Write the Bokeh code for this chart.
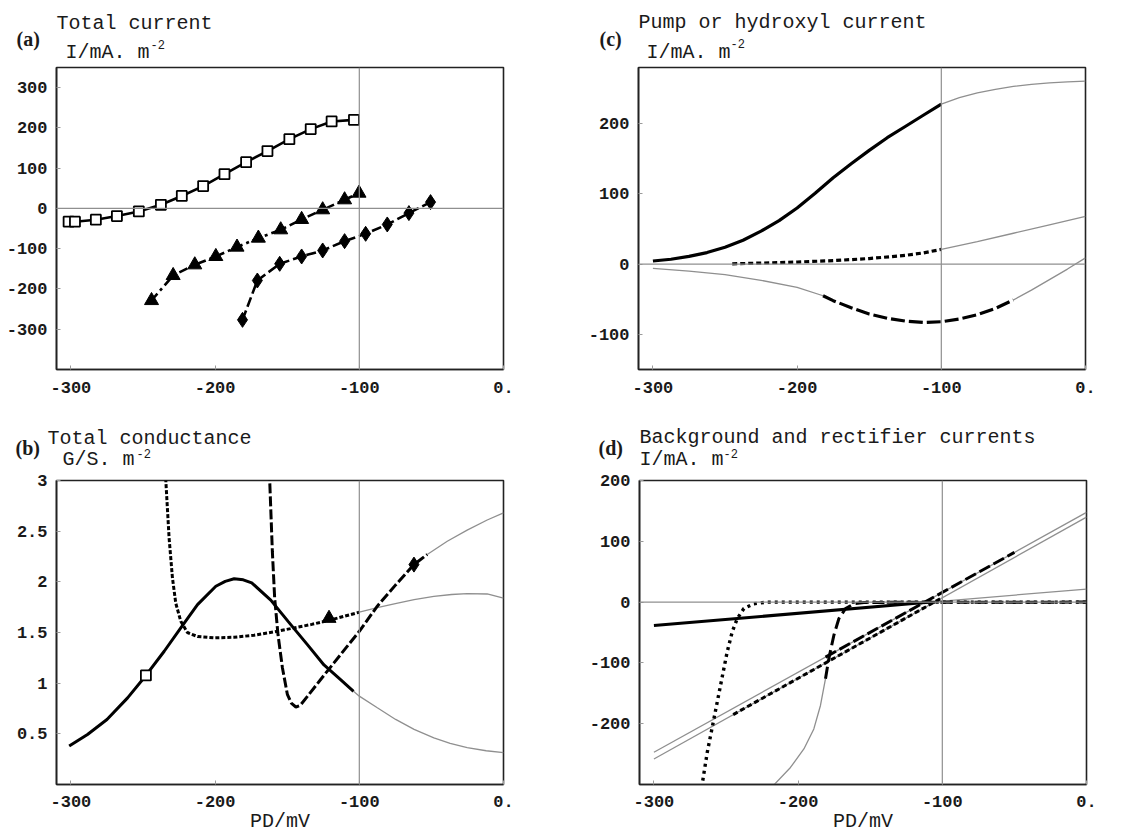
import numpy as np
from bokeh.plotting import figure
from bokeh.models import Span, Label, FixedTicker
from bokeh.layouts import column, row
from bokeh.embed import file_html
from bokeh.resources import INLINE

MONO = "Liberation Mono"
SERIF = "Liberation Serif"
GRAY = "#8f8f8f"
INK = "#1a1a1a"

# ---------------- data: panel (a) total current ----------------
a_sq_x = [-301.6, -297.2, -282.7, -268.1, -252.9, -237.6, -223.1, -208.3, -193.5, -178.5, -163.7, -148.5, -133.7, -119.2, -103.7]
a_sq_y = [-33, -33, -28, -19, -7.5, 9, 31, 55.5, 85, 115, 142.5, 172, 197, 216, 220]
a_tri_x = [-244.1, -229.1, -214.1, -199.5, -184.8, -170.0, -154.5, -140.0, -125.4, -110.2, -100.2]
a_tri_y = [-228.7, -166.5, -140, -119.3, -96, -73.7, -53, -27.3, -3.3, 21.5, 38]
a_dia_x = [-181.0, -170.7, -155.2, -140.0, -125.4, -110.2, -95.6, -80.6, -65.6, -50.6]
a_dia_y = [-276.7, -179, -137.5, -119.3, -104.4, -81.2, -63, -39.8, -11.6, 15.7]

# ---------------- data: panel (b) total conductance ----------------
b_sq_x = [-301.2, -288.5, -275, -260.7, -248, -235.3, -223.8, -212.2, -199.5, -193, -186.8, -180.5, -174.6, -161.4, -149.4, -136, -124.5, -113, -104]
b_sq_y = [0.379, 0.494, 0.642, 0.855, 1.076, 1.315, 1.545, 1.775, 1.956, 2.005, 2.03, 2.02, 1.99, 1.82, 1.61, 1.38, 1.18, 1.035, 0.92]
b_sq_gx = [-104, -100, -87.5, -74.8, -62, -48.3, -37, -25.2, -12, 0]
b_sq_gy = [0.92, 0.872, 0.757, 0.642, 0.544, 0.46, 0.405, 0.363, 0.333, 0.314]
b_tri_x = [-234.8, -234.2, -231.9, -229.6, -227.3, -223.8, -219.2, -212.2, -200.7, -186.8, -173, -159.1, -145.3, -133, -121, -100]
b_tri_y = [3.2, 3.0, 2.43, 2.04, 1.79, 1.61, 1.50, 1.46, 1.447, 1.453, 1.473, 1.506, 1.545, 1.58, 1.62, 1.70]
b_tri_gx = [-100, -87.5, -75, -62, -48.3, -36, -25.2, -11.3, 0]
b_tri_gy = [1.70, 1.745, 1.785, 1.825, 1.857, 1.875, 1.883, 1.88, 1.84]
b_dia_x = [-162.4, -160.3, -158.7, -156.4, -153.3, -149.9, -147, -144, -141, -136, -126.8, -117.6, -108.3, -100, -87.5, -74.8, -62.1, -52.9]
b_dia_y = [3.1, 2.30, 1.84, 1.48, 1.15, 0.89, 0.80, 0.765, 0.78, 0.87, 1.036, 1.2, 1.365, 1.512, 1.76, 1.97, 2.17, 2.27]
b_dia_gx = [-52.9, -39, -25.2, -11.3, 0]
b_dia_gy = [2.27, 2.40, 2.51, 2.61, 2.68]
b_mark_sq = (-248, 1.076)
b_mark_tri = (-121, 1.64)
b_mark_dia = (-62.1, 2.17)

# ---------------- data: panel (c) pump current ----------------
c_sol_x = [-300, -287.5, -275, -262.5, -250, -237.5, -225, -212.5, -200, -187.5, -175, -162.5, -150, -137.5, -125, -112.5, -100]
c_sol_y = [4.5, 7, 11, 16.5, 24, 34, 47, 62, 80, 101, 123, 143, 162, 180, 196, 212, 228]
c_sol_gx = [-100, -87.5, -75, -62.5, -50, -37.5, -25, -12.5, 0]
c_sol_gy = [228, 237, 244, 249, 253, 256, 258, 259.5, 260.5]
c_dot_x = [-245, -225, -200, -175, -150, -125, -112.5, -100]
c_dot_y = [0.5, 1.5, 3, 5, 8, 12.5, 16, 21]
c_dot_gx = [-100, -75, -50, -25, 0]
c_dot_gy = [21, 32, 44, 56, 68]
c_dash_g1x = [-300, -275, -250, -225, -200, -182]
c_dash_g1y = [-6, -10, -15, -23, -33, -45]
c_dash_x = [-182, -175, -162.5, -150, -137.5, -125, -112.5, -100, -87.5, -75, -62.5, -50]
c_dash_y = [-45, -52, -62, -71, -77, -81, -83, -82, -78, -72, -63, -51]
c_dash_g2x = [-50, -37.5, -25, -12.5, 0]
c_dash_g2y = [-51, -37, -22, -7, 9]

# ---------------- data: panel (d) background & rectifier ----------------
d_bg_x = [-300, -108]
d_bg_y = [-38.5, 0]
d_bg_gx = [-108, 0]
d_bg_gy = [0, 21.5]
d_lineA_x = [-300, 0]
d_lineA_y = [-247, 147.5]
d_lineB_x = [-300, 0]
d_lineB_y = [-258, 139.8]
d_dotov_x = [-245, -100]
d_dotov_y = [-185, 7.3]
d_dashov_x = [-181, -50]
d_dashov_y = [-90.5, 81.7]
d_dotsig_x = [-266.9, -263, -258.4, -253.8, -249.2, -245.7, -242.2, -237.6, -230.7, -221.4, 0]
d_dotsig_y = [-305, -247, -192, -137, -82, -49, -27, -10.5, -2.8, 0, 0]
d_dashsig_x = [-181, -178.7, -175.2, -171.7, -167.1, -161.3, -154.4, 0]
d_dashsig_y = [-126, -93, -54.5, -27, -10.5, -2.8, -0.5, 0]
d_dashsig_gx = [-218.5, -205.3, -196, -189.1, -184.5, -181]
d_dashsig_gy = [-305, -272, -241.6, -208.6, -170, -126]

X_TICKS = [-300, -200, -100, 0]
X_LABELS = {-300: "-300", -200: "-200", -100: "-100", 0: "0."}
W = 573


def make_fig(h, yr, yticks, ylabels, left, right, top, bottom, hline=True, xlabel=None):
    p = figure(width=W, height=h, x_range=(-310, 0), y_range=yr,
               output_backend="svg", toolbar_location=None,
               min_border_left=left, min_border_right=right,
               min_border_top=top, min_border_bottom=bottom)
    p.xgrid.visible = False
    p.ygrid.visible = False
    p.outline_line_color = "#222222"
    p.outline_line_width = 1.6
    p.background_fill_color = "white"
    p.border_fill_color = "white"
    for ax in (p.xaxis[0], p.yaxis[0]):
        ax.axis_line_color = "#222222"
        ax.axis_line_width = 1.6
        ax.major_tick_in = 4
        ax.major_tick_out = 0
        ax.major_tick_line_color = "#9a9a9a"
        ax.minor_tick_line_color = None
        ax.major_label_text_font = MONO
        ax.major_label_text_font_style = "bold"
        ax.major_label_text_font_size = "17px"
        ax.major_label_text_color = INK
    p.xaxis.ticker = FixedTicker(ticks=X_TICKS)
    p.xaxis.major_label_overrides = X_LABELS
    p.xaxis.major_label_standoff = 12 if xlabel is None else 11
    if xlabel is not None:
        p.xaxis.axis_label = xlabel
        p.xaxis.axis_label_text_font = MONO
        p.xaxis.axis_label_text_font_size = "20px"
        p.xaxis.axis_label_text_font_style = "normal"
        p.xaxis.axis_label_text_color = INK
        p.xaxis.axis_label_standoff = 0
    p.yaxis.ticker = FixedTicker(ticks=yticks)
    p.yaxis.major_label_overrides = ylabels
    p.yaxis.major_label_standoff = 9
    p.add_layout(Span(location=-100, dimension="height", line_color=GRAY, line_width=1.2))
    if hline:
        p.add_layout(Span(location=0, dimension="width", line_color=GRAY, line_width=1.2))
    return p


def header(h, tag, tagx, tagy, title, tx, ty, ylab, yx, yy, supx, supy):
    q = figure(width=W, height=h, x_range=(0, W), y_range=(0, h),
               x_axis_type=None, y_axis_type=None, output_backend="svg",
               toolbar_location=None, min_border=0)
    q.outline_line_color = None
    q.background_fill_color = "white"
    q.border_fill_color = "white"

    def t(x, y, text, size, font=MONO, style="normal"):
        q.add_layout(Label(x=x, y=y, text=text, text_font=font, text_font_size=size,
                           text_font_style=style, text_color=INK,
                           text_baseline="alphabetic", text_align="left"))
    t(tx, ty, title, "20px")
    t(tagx, tagy, tag, "20px", SERIF, "bold")
    t(yx, yy, ylab, "20px")
    t(supx, supy, "-2", "12px")
    return q


def thin(p, x, y):
    p.line(x, y, line_color=GRAY, line_width=1.3)


# ---------------- headers (pixel coordinates inside each header strip) ----------------
ha = header(65, "(a)", 16, 26.5, "Total current", 56, 42.5, "I/mA. m", 65, 12.7, 150, 21.5)
hc = header(65, "(c)", 26, 27, "Pump or hydroxyl current", 65, 43.3, "I/mA. m", 73, 12.7, 157, 22)
hb = header(52, "(b)", 15, 23, "Total conductance", 47, 32, "G/S. m", 62, 11, 136, 17.5)
hd = header(52, "(d)", 25, 23, "Background and rectifier currents", 66, 33, "I/mA. m", 66, 11, 150, 17.5)

# ---------------- panel (a) ----------------
pa = make_fig(353, (-400, 350), [-300, -200, -100, 0, 100, 200, 300],
              {-300: "-300", -200: "-200", -100: "-100", 0: "0", 100: "100", 200: "200", 300: "300"},
              56, 70, 1, 48)
pa.line(a_sq_x, a_sq_y, line_color="black", line_width=2.6)
pa.line(a_tri_x, a_tri_y, line_color="black", line_width=2.6, line_dash="9 4 3 4")
pa.line(a_dia_x, a_dia_y, line_color="black", line_width=2.6, line_dash="10 4")
pa.scatter(a_sq_x, a_sq_y, marker="square", size=10, fill_color="white", line_color="black", line_width=1.8)
pa.scatter(a_tri_x, a_tri_y, marker="triangle", size=14, fill_color="black", line_color="black")
pa.scatter(a_dia_x, a_dia_y, marker="diamond", size=15, fill_color="black", line_color="black")

# ---------------- panel (c) ----------------
pc = make_fig(353, (-150, 280), [-100, 0, 100, 200],
              {-100: "-100", 0: "0", 100: "100", 200: "200"},
              65, 61, 2, 49)
thin(pc, c_sol_gx, c_sol_gy)
thin(pc, c_dot_gx, c_dot_gy)
thin(pc, c_dash_g1x, c_dash_g1y)
thin(pc, c_dash_g2x, c_dash_g2y)
pc.line(c_sol_x, c_sol_y, line_color="black", line_width=3.2)
pc.line(c_dot_x, c_dot_y, line_color="black", line_width=3.2, line_dash="5 3")
pc.line(c_dash_x, c_dash_y, line_color="black", line_width=3.2, line_dash="14 4")

# ---------------- panel (b) ----------------
pb = make_fig(366, (0, 3), [0.5, 1, 1.5, 2, 2.5, 3],
              {0.5: "0.5", 1: "1", 1.5: "1.5", 2: "2", 2.5: "2.5", 3: "3"},
              56, 70, 10, 52, hline=False, xlabel="PD/mV")
thin(pb, b_sq_gx, b_sq_gy)
thin(pb, b_tri_gx, b_tri_gy)
thin(pb, b_dia_gx, b_dia_gy)
pb.line(b_sq_x, b_sq_y, line_color="black", line_width=3)
pb.line(b_tri_x, b_tri_y, line_color="black", line_width=3, line_dash="4 2")
pb.line(b_dia_x, b_dia_y, line_color="black", line_width=3, line_dash="10 3")
pb.scatter([b_mark_sq[0]], [b_mark_sq[1]], marker="square", size=10, fill_color="white", line_color="black", line_width=1.8)
pb.scatter([b_mark_tri[0]], [b_mark_tri[1]], marker="triangle", size=14, fill_color="black", line_color="black")
pb.scatter([b_mark_dia[0]], [b_mark_dia[1]], marker="diamond", size=15, fill_color="black", line_color="black")

# ---------------- panel (d) ----------------
pd_ = make_fig(366, (-300, 200), [-200, -100, 0, 100, 200],
               {-200: "-200", -100: "-100", 0: "0", 100: "100", 200: "200"},
               66, 60, 10, 52, xlabel="PD/mV")
thin(pd_, d_bg_gx, d_bg_gy)
thin(pd_, d_lineA_x, d_lineA_y)
thin(pd_, d_lineB_x, d_lineB_y)
thin(pd_, d_dashsig_gx, d_dashsig_gy)
pd_.line(d_bg_x, d_bg_y, line_color="black", line_width=3)
pd_.line(d_dotov_x, d_dotov_y, line_color="black", line_width=3, line_dash="5 3")
pd_.line(d_dashov_x, d_dashov_y, line_color="black", line_width=3, line_dash="12 4")
pd_.line(d_dotsig_x, d_dotsig_y, line_color="black", line_width=3.4, line_dash="3 4")
pd_.line(d_dashsig_x, d_dashsig_y, line_color="black", line_width=3, line_dash="12 5")

layout = column(row(ha, hc), row(pa, pc), row(hb, hd), row(pb, pd_))

open("out.html", "w").write(file_html(layout, INLINE))
